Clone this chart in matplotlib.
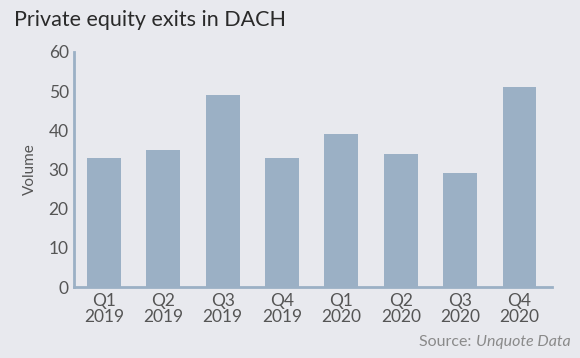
import matplotlib
matplotlib.use("Agg")
import matplotlib.pyplot as plt

quarters = ["Q1\n2019", "Q2\n2019", "Q3\n2019", "Q4\n2019",
            "Q1\n2020", "Q2\n2020", "Q3\n2020", "Q4\n2020"]
volumes = [33, 35, 49, 33, 39, 34, 29, 51]
yticks = [0, 10, 20, 30, 40, 50, 60]

bg = "#e8e9ee"
bar_color = "#9bb0c5"
text_color = "#555555"

plt.rcParams["font.family"] = ["Lato", "DejaVu Sans"]

fig = plt.figure(figsize=(5.8, 3.58), dpi=100, facecolor=bg)
ax = fig.add_axes([0.128, 0.198, 0.824, 0.657], facecolor=bg)

ax.bar(range(len(volumes)), volumes, width=0.57, color=bar_color)

ax.set_xlim(-0.5, len(volumes) - 0.45)
ax.set_ylim(0, 60)
ax.set_yticks(yticks)
ax.set_xticks(range(len(quarters)))
ax.set_xticklabels(quarters, fontsize=12.5, color=text_color,
                   linespacing=1.0)
ax.set_yticklabels([str(t) for t in yticks], fontsize=12.5,
                   color=text_color)
ax.tick_params(length=0, pad=4)

for side in ["top", "right"]:
    ax.spines[side].set_visible(False)
for side in ["left", "bottom"]:
    ax.spines[side].set_color(bar_color)
    ax.spines[side].set_linewidth(2)

ax.set_ylabel("Volume", fontsize=11, color=text_color, labelpad=8)

fig.text(0.024, 0.945, "Private equity exits in DACH", fontsize=15.5,
         color="#2a2a2a", va="center", ha="left")

src = fig.text(0.983, 0.045, "Unquote Data", fontsize=11.5,
               style="italic", color="#8a8a8a", ha="right", va="center")
fig.canvas.draw()
bb = src.get_window_extent(fig.canvas.get_renderer())
x0 = bb.x0 / fig.bbox.width
fig.text(x0, 0.045, "Source: ", fontsize=11.5, color="#8a8a8a",
         ha="right", va="center")

fig.savefig("out.png", dpi=100, facecolor=bg)
